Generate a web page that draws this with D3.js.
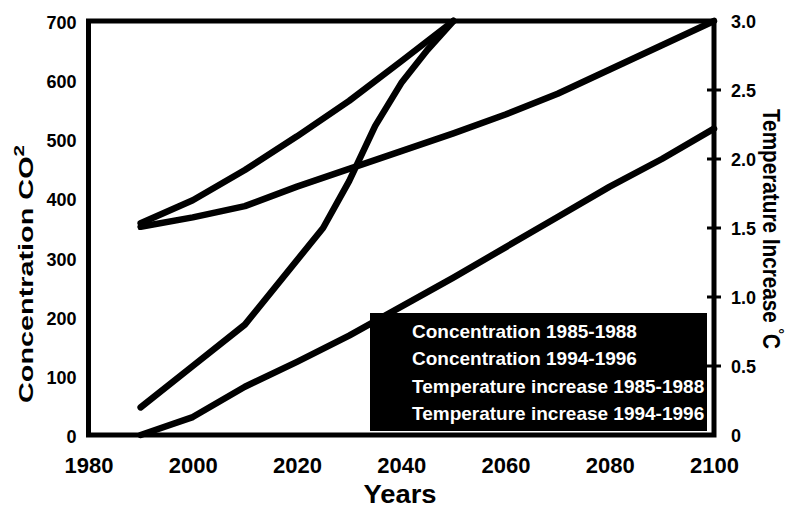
<!DOCTYPE html>
<html><head><meta charset="utf-8">
<script src="https://cdn.jsdelivr.net/npm/d3@7"></script>
<style>
html,body{margin:0;padding:0;background:#fff;}
svg text{font-family:"Liberation Sans",Arial,sans-serif;font-weight:bold;fill:#000;}
</style></head>
<body><svg id="chart" width="794" height="509"></svg>
<script>
// ---- data ----
const xTicks = [1980, 2000, 2020, 2040, 2060, 2080, 2100];
const leftTicks = [0, 100, 200, 300, 400, 500, 600, 700];
const rightTicks = [0, 0.5, 1.0, 1.5, 2.0, 2.5, 3.0];
const rightTickLabels = ["0", "0.5", "1.0", "1.5", "2.0", "2.5", "3.0"];

const yearsConc8588 = [1990, 2000, 2010, 2020, 2030, 2040, 2050];
const conc8588 = [358, 397, 448, 505, 565, 632, 700];

const yearsConc9496 = [1990, 2000, 2010, 2020, 2030, 2040, 2050, 2060, 2070, 2080, 2090, 2100];
const conc9496 = [352, 368, 387, 420, 450, 480, 510, 542, 577, 618, 659, 700];

const yearsTemp8588 = [1990, 2000, 2010, 2025, 2030, 2035, 2040, 2045, 2050];
const temp8588 = [0.2, 0.5, 0.8, 1.5, 1.84, 2.24, 2.55, 2.79, 3.0];

const yearsTemp9496 = [1990, 2000, 2010, 2020, 2030, 2040, 2050, 2060, 2070, 2080, 2090, 2100];
const temp9496 = [0, 0.13, 0.35, 0.53, 0.72, 0.93, 1.14, 1.36, 1.58, 1.80, 2.0, 2.22];

const legendLabels = ["Concentration 1985-1988", "Concentration 1994-1996",
                      "Temperature increase 1985-1988", "Temperature increase 1994-1996"];

// ---- layout ----
const L = 88.5, R = 714, T = 21, B = 435;
const svg = d3.select("#chart");
const x = d3.scaleLinear().domain([1980, 2100]).range([L, R]);
const yL = d3.scaleLinear().domain([0, 700]).range([B, T]);
const yR = d3.scaleLinear().domain([0, 3]).range([B, T]);

// lines
const series = [
  {yrs: yearsConc8588, vals: conc8588, s: yL},
  {yrs: yearsConc9496, vals: conc9496, s: yL},
  {yrs: yearsTemp8588, vals: temp8588, s: yR},
  {yrs: yearsTemp9496, vals: temp9496, s: yR}
];
series.forEach(d => {
  const pts = d.yrs.map((yr, i) => [yr, d.vals[i]]);
  const line = d3.line().x(p => x(p[0])).y(p => d.s(p[1]));
  svg.append("path").attr("d", line(pts)).attr("fill", "none")
    .attr("stroke", "#000").attr("stroke-width", 6.5)
    .attr("stroke-linejoin", "round").attr("stroke-linecap", "round");
});

// legend box
const lg = svg.append("g");
lg.append("rect").attr("x", 370).attr("y", 313).attr("width", 337).attr("height", 118).attr("fill", "#000");
lg.selectAll("text").data(legendLabels).join("text")
  .attr("x", 412).attr("y", (d, i) => 338 + i * 27.3)
  .attr("font-size", 19).style("fill", "#fff").text(d => d);

// frame
svg.append("rect").attr("x", L).attr("y", T).attr("width", R - L).attr("height", B - T)
  .attr("fill", "none").attr("stroke", "#000").attr("stroke-width", 5);

// left axis labels
const axL = d3.axisLeft(yL).tickValues(leftTicks).tickSize(0).tickPadding(12).tickFormat(d3.format("d"));
const gL = svg.append("g").attr("transform", `translate(${L},0)`).call(axL);
gL.select(".domain").remove();
gL.selectAll("text").attr("font-size", 18).attr("font-family", null).attr("dy", "0.42em");

// right axis
const axR = d3.axisRight(yR).tickValues(rightTicks).tickSize(0).tickPadding(17)
  .tickFormat((d, i) => rightTickLabels[i]);
const gR = svg.append("g").attr("transform", `translate(${R},0)`).call(axR);
gR.select(".domain").remove();
gR.selectAll("text").attr("font-size", 18).attr("font-family", null).attr("dy", "0.38em");
svg.append("g").selectAll("line").data(rightTicks.slice(1, -1)).join("line")
  .attr("x1", R - 7).attr("x2", R + 7).attr("y1", d => yR(d)).attr("y2", d => yR(d))
  .attr("stroke", "#000").attr("stroke-width", 3);

// x axis
const axB = d3.axisBottom(x).tickValues(xTicks).tickSize(0).tickPadding(22).tickFormat(d3.format("d"));
const gB = svg.append("g").attr("transform", `translate(0,${B})`).call(axB);
gB.select(".domain").remove();
gB.selectAll("text").attr("font-size", 22).attr("font-family", null);

// titles
svg.append("text").attr("x", 400).attr("y", 503).attr("text-anchor", "middle")
  .attr("font-size", 25).attr("textLength", 73).attr("lengthAdjust", "spacingAndGlyphs").text("Years");

const tl = svg.append("text").attr("transform", "translate(33,274) rotate(-90)")
  .attr("text-anchor", "middle").attr("font-size", 21)
  .attr("textLength", 258).attr("lengthAdjust", "spacingAndGlyphs");
tl.append("tspan").text("Concentration CO");
tl.append("tspan").attr("font-size", 15).attr("dy", -9).text("2");

const tr = svg.append("text").attr("transform", "translate(763,229) rotate(90)")
  .attr("text-anchor", "middle").attr("font-size", 23)
  .attr("textLength", 240).attr("lengthAdjust", "spacingAndGlyphs");
tr.append("tspan").text("Temperature Increase ");
tr.append("tspan").attr("font-size", 15).attr("dy", -10).text("°");
tr.append("tspan").attr("dy", 10).text("C");
</script></body></html>
